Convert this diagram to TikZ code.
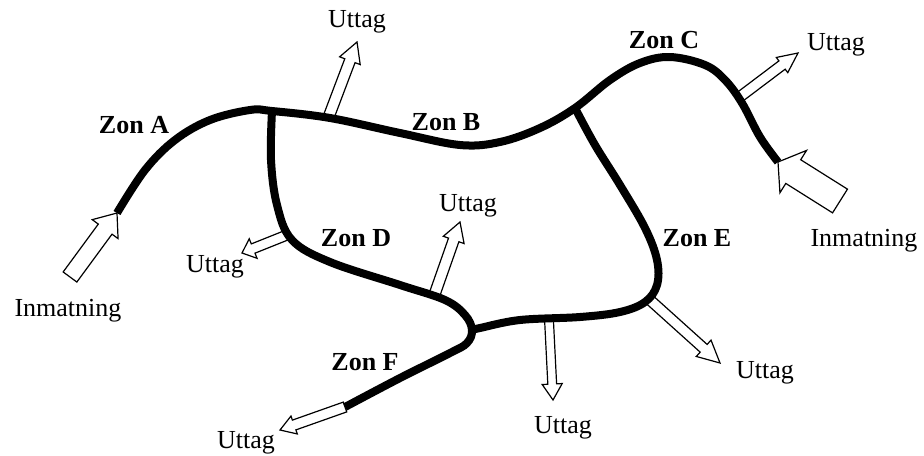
\documentclass[tikz,border=0pt]{standalone}
\usepackage{fontspec}
\setmainfont{Liberation Serif}
\usetikzlibrary{calc}
% hollow block arrow: from, to, shaft half width, head half width, head length
\newcommand{\blockarrow}[5]{
  \coordinate (h) at ($(#2)!#5!(#1)$);
  \filldraw[fill=white, line width=0.6pt, line join=miter]
    ($(#1)!#3!90:(#2)$) -- ($(h)!#3!90:(#2)$) -- ($(h)!#4!90:(#2)$) -- (#2)
    -- ($(h)!#4!-90:(#2)$) -- ($(h)!#3!-90:(#2)$) -- ($(#1)!#3!-90:(#2)$) -- cycle;
}
\tikzset{
  zone/.style={line width=4pt, line join=round},
  lbl/.style={inner sep=0pt, font=\fontsize{13}{15}\selectfont},
  zlbl/.style={lbl, font=\fontsize{13}{15}\selectfont\bfseries}
}

\begin{document}
\begin{tikzpicture}[x=0.5pt, y=-0.5pt]
    \useasboundingbox (0,0) rectangle (924,455);
    % junctions and line ends
    \coordinate (inA) at (117,213);
    \coordinate (inC) at (778,162);
    \coordinate (jAD) at (272,111);
    \coordinate (jBE) at (575,108);
    \coordinate (jDF) at (472,330);
    \coordinate (endF) at (345,407);
    % arrow ends
    \coordinate (in1s) at (70,277);
    \coordinate (in2s) at (840,201);
    \coordinate (u1s) at (329,116);  \coordinate (u1e) at (357,42);
    \coordinate (u2s) at (287,235);  \coordinate (u2e) at (242,253);
    \coordinate (u3s) at (434,296);  \coordinate (u3e) at (460,222);
    \coordinate (u4s) at (549,320);  \coordinate (u4e) at (553,400);
    \coordinate (u5s) at (650,300);  \coordinate (u5e) at (720,363);
    \coordinate (u6s) at (737,99);   \coordinate (u6e) at (798,53);
    \coordinate (u7e) at (280,430);

    \blockarrow{in1s}{inA}{4.25pt}{8pt}{10pt}
    \blockarrow{in2s}{inC}{7pt}{12.5pt}{9pt}
    \blockarrow{u1s}{u1e}{2.75pt}{5.5pt}{10pt}
    \blockarrow{u2s}{u2e}{2.5pt}{5.25pt}{6pt}
    \blockarrow{u3s}{u3e}{2.75pt}{5.5pt}{9.5pt}
    \blockarrow{u4s}{u4e}{2.2pt}{5pt}{8pt}
    \blockarrow{u5s}{u5e}{2.6pt}{5.5pt}{11pt}
    \blockarrow{u6s}{u6e}{2.6pt}{4.75pt}{10pt}
    \blockarrow{endF}{u7e}{2.6pt}{4.75pt}{7.5pt}

    % zones
    \draw[zone] plot[smooth, tension=0.6] coordinates {(inA) (145,170) (175,140) (210,120) (250,110) (jAD)
        (330,118) (400,133) (460,145) (500,142) (540,128) (jBE)
        (610,80) (640,63) (670,57) (705,65) (725,80) (742,103) (760,137) (inC)};
    \draw[zone] plot[smooth, tension=0.6] coordinates {(jAD) (271,160) (277,205) (292,240) (330,262)
        (400,285) (445,300) (465,315) (jDF) (467,343) (450,353) (400,378) (endF)};
    \draw[zone] plot[smooth, tension=0.6] coordinates {(jDF) (480,328) (520,320) (580,317) (620,312)
        (645,302) (657,285) (657,260) (645,228) (620,185) (595,145) (jBE)};

    % labels
    \node[zlbl] (zA) at (134,125) {Zon A};
    \node[zlbl] (zB) at (446,122) {Zon B};
    \node[zlbl] (zC) at (664,40) {Zon C};
    \node[zlbl] (zD) at (356,238) {Zon D};
    \node[zlbl] (zE) at (697,238) {Zon E};
    \node[zlbl] (zF) at (365,362) {Zon F};
    \node[lbl] (in1) at (68,311) {Inmatning};
    \node[lbl] (in2) at (864,241) {Inmatning};
    \node[lbl] (u1) at (357,22) {Uttag};
    \node[lbl] (u2) at (215,267) {Uttag};
    \node[lbl] (u3) at (468,206) {Uttag};
    \node[lbl] (u4) at (563,428) {Uttag};
    \node[lbl] (u5) at (765,373) {Uttag};
    \node[lbl] (u6) at (836,45) {Uttag};
    \node[lbl] (u7) at (246,443) {Uttag};
\end{tikzpicture}
\end{document}
